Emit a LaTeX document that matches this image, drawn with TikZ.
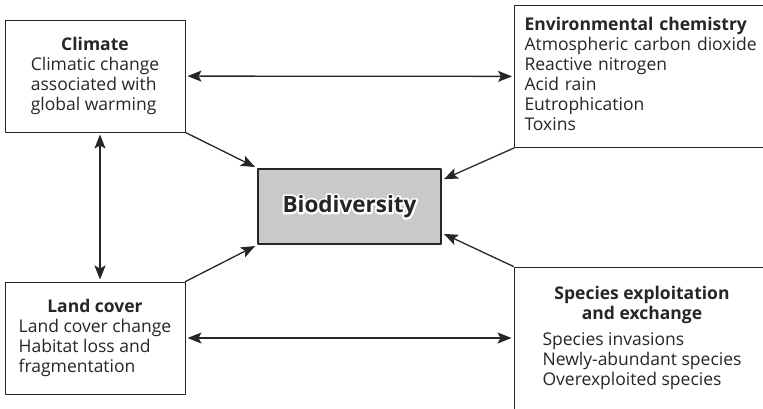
\documentclass[tikz,border=0pt]{standalone}
\usepackage{fontspec}
\setmainfont{Open Sans}
\usetikzlibrary{arrows.meta}
\definecolor{inkgray}{rgb}{0.15,0.15,0.15}
\definecolor{biogray}{rgb}{0.79,0.79,0.79}
\newcommand{\halotext}[1]{\rlap{\color{white}\addfontfeature{FakeBold=18}#1}#1}

\begin{document}
\begin{tikzpicture}[x=1pt,y=-1pt,line cap=round,line join=round,
    font=\fontsize{17.5}{20}\selectfont,
    every node/.style={text=inkgray},
    factor/.style={draw=inkgray,line width=1pt,fill=white,inner sep=0pt},
    link/.style={draw=inkgray,line width=1.3pt,shorten >=2pt,
        -{Stealth[length=14pt,width=11pt,inset=3pt]}},
    both/.style={link,shorten <=2pt,
        {Stealth[length=14pt,width=11pt,inset=3pt]}-{Stealth[length=14pt,width=11pt,inset=3pt]}}]
    \def\boxw{180}
    \def\boxh{112}
    \useasboundingbox (0,0) rectangle (763,408);
    % climate
    \node[factor,minimum width=\boxw,minimum height=\boxh] (climate) at (95,76)
        {\begin{tabular}{@{}l@{}}
            \multicolumn{1}{@{}c@{}}{\bfseries Climate}\\
            Climatic change\\
            associated with\\
            global warming
        \end{tabular}};
    % environmental chemistry
    \node[factor,anchor=north west,minimum width=260,minimum height=142,
        text width=240,inner xsep=10pt,align=left] (env) at (514,5)
        {\begin{tabular}{@{}l@{}}
            \bfseries Environmental chemistry\\
            Atmospheric carbon dioxide\\
            Reactive nitrogen\\
            Acid rain\\
            Eutrophication\\
            Toxins
        \end{tabular}};
    % land cover
    \node[factor,minimum width=\boxw,minimum height=\boxh] (land) at (95,338)
        {\begin{tabular}{@{}l@{}}
            \multicolumn{1}{@{}c@{}}{\bfseries Land cover}\\
            Land cover change\\
            Habitat loss and\\
            fragmentation
        \end{tabular}};
    % species
    \node[factor,minimum width=256,minimum height=143] (species) at (642,338.5)
        {\begin{tabular}{@{}l@{}}
            \multicolumn{1}{@{}c@{}}{\bfseries Species exploitation}\\
            \multicolumn{1}{@{}c@{}}{\bfseries and exchange}\\[6pt]
            Species invasions\\
            Newly-abundant species\\
            Overexploited species
        \end{tabular}};
    % biodiversity
    \node[draw=inkgray,line width=2.2pt,fill=biogray,
        minimum width=183,minimum height=75,
        font=\fontsize{22.5}{26}\selectfont\bfseries] (bio) at (349.5,206.5)
        {\halotext{Biodiversity}};
    % links
    \draw[both] (climate) -- (env);
    \draw[both] ([xshift=5pt]climate.south) -- ([xshift=5pt]land.north);
    \draw[both] (land.east) -- (land.east -| species.west);
    \draw[link] (climate.south east) -- (bio.north west);
    \draw[link] (env.south west) -- (bio.16);
    \draw[link] (land.north east) -- (bio.south west);
    \draw[link] (species.north west) -- (bio.-16);
\end{tikzpicture}
\end{document}
